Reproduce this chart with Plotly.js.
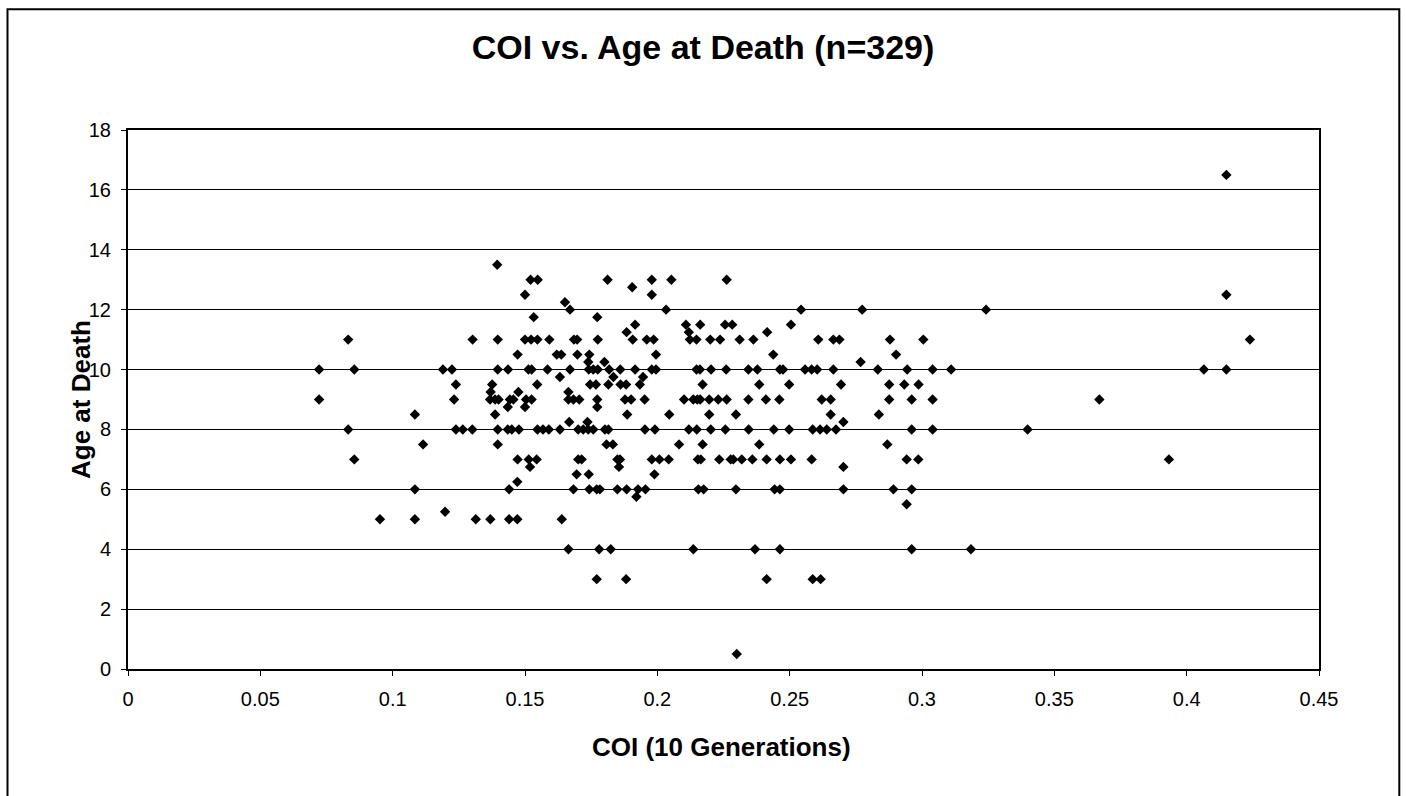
<!DOCTYPE html>
<html>
<head>
<meta charset="utf-8">
<script src="https://cdn.plot.ly/plotly-3.0.1.min.js"></script>
<style>
  html, body { margin: 0; padding: 0; background: #ffffff; }
  #chart { width: 1406px; height: 796px; }
</style>
</head>
<body>
<div id="chart"></div>
<script>
// COI (10 generations) of each dog, one line per age group
const coi = [
  0.415,                                                         // 16.5
  0.1395,                                                        // 13.5
  0.1521, 0.1548, 0.1812, 0.1979, 0.2053, 0.2262,                // 13
  0.1905,                                                        // 12.75
  0.15, 0.1979, 0.415,                                           // 12.5
  0.1651,                                                        // 12.25
  0.167, 0.2033, 0.2543, 0.2774, 0.3242,                         // 12
  0.1533, 0.1773,                                                // 11.75
  0.1916, 0.2108, 0.2162, 0.2256, 0.2283, 0.2505,                // 11.5
  0.1884, 0.2119, 0.2415,                                        // 11.25
  0.0832, 0.1302, 0.1397, 0.15, 0.1523, 0.1547, 0.1592, 0.1685, 0.1697, 0.1775,
  0.1907, 0.196, 0.1986, 0.2123, 0.2148, 0.22, 0.2237, 0.2311, 0.2363, 0.2608,
  0.2665, 0.2688, 0.2879, 0.3005, 0.4239,                        // 11
  0.1472, 0.162, 0.1637, 0.1698, 0.1743, 0.1995, 0.2438, 0.2902, // 10.5
  0.1739, 0.18, 0.2768,                                          // 10.25
  0.0722, 0.0855, 0.119, 0.1224, 0.1397, 0.1436, 0.1513, 0.1525, 0.1585, 0.167,
  0.1741, 0.1758, 0.1775, 0.1818, 0.186, 0.1916, 0.1979, 0.1995, 0.2148, 0.2161,
  0.2203, 0.226, 0.2344, 0.2378, 0.2463, 0.2475, 0.2558, 0.2583, 0.2604, 0.2665,
  0.2833, 0.2944, 0.304, 0.311, 0.4065, 0.415,                   // 10
  0.1632, 0.1834, 0.1946,                                        // 9.75
  0.1239, 0.1376, 0.1546, 0.1746, 0.1768, 0.1815, 0.1861, 0.1882, 0.1934, 0.2171,
  0.2385, 0.2498, 0.2694, 0.2876, 0.2933, 0.2987,                // 9.5
  0.137, 0.1475, 0.1664,                                         // 9.25
  0.0722, 0.1232, 0.1368, 0.1387, 0.14, 0.1443, 0.1456, 0.1504, 0.1525, 0.1664,
  0.1683, 0.1705, 0.1773, 0.1878, 0.1901, 0.1952, 0.2101, 0.2136, 0.2151, 0.2162,
  0.2196, 0.223, 0.2262, 0.2344, 0.241, 0.2461, 0.2621, 0.2655, 0.2876, 0.2961,
  0.304, 0.367,                                                  // 9
  0.1435, 0.15, 0.1773,                                          // 8.75
  0.1084, 0.1387, 0.1886, 0.2045, 0.2196, 0.2297, 0.2655, 0.2837, // 8.5
  0.1667, 0.1736, 0.2703,                                        // 8.25
  0.0832, 0.1239, 0.1265, 0.1301, 0.1397, 0.1435, 0.145, 0.1477, 0.1547, 0.1568,
  0.159, 0.1632, 0.1701, 0.172, 0.1739, 0.1758, 0.1802, 0.1815, 0.1953, 0.1991,
  0.2119, 0.2149, 0.2202, 0.2257, 0.2345, 0.244, 0.2498, 0.2587, 0.2615, 0.264,
  0.2675, 0.2961, 0.304, 0.3399,                                 // 8
  0.1115, 0.1397, 0.1808, 0.1832, 0.2082, 0.2171, 0.2385, 0.2869, // 7.5
  0.0855, 0.1472, 0.1514, 0.1544, 0.1701, 0.1714, 0.1849, 0.1859, 0.1979, 0.2008,
  0.2043, 0.2153, 0.2164, 0.2234, 0.2277, 0.2287, 0.2319, 0.2359, 0.2413, 0.2463,
  0.2505, 0.2583, 0.2942, 0.2986, 0.3933,                        // 7
  0.1519, 0.1855, 0.2703,                                        // 6.75
  0.1695, 0.1741, 0.1989,                                        // 6.5
  0.1471,                                                        // 6.25
  0.1084, 0.144, 0.1683, 0.1743, 0.1771, 0.1783, 0.1849, 0.1884, 0.1927, 0.1955,
  0.2155, 0.2175, 0.2297, 0.2443, 0.2463, 0.2703, 0.2892, 0.2961, // 6
  0.1921,                                                        // 5.75
  0.2942,                                                        // 5.5
  0.1198,                                                        // 5.25
  0.0952, 0.1084, 0.1314, 0.1369, 0.144, 0.1471, 0.1639,         // 5
  0.1664, 0.178, 0.1824, 0.2136, 0.2369, 0.2463, 0.2961, 0.3185, // 4
  0.1771, 0.1882, 0.2413, 0.2587, 0.2617,                        // 3
  0.23                                                           // 0.5
];

// Age at death (years), same order as coi
const ageAtDeath = [
  16.5,
  13.5,
  13, 13, 13, 13, 13, 13,
  12.75,
  12.5, 12.5, 12.5,
  12.25,
  12, 12, 12, 12, 12,
  11.75, 11.75,
  11.5, 11.5, 11.5, 11.5, 11.5, 11.5,
  11.25, 11.25, 11.25,
  11, 11, 11, 11, 11, 11, 11, 11, 11, 11,
  11, 11, 11, 11, 11, 11, 11, 11, 11, 11,
  11, 11, 11, 11, 11,
  10.5, 10.5, 10.5, 10.5, 10.5, 10.5, 10.5, 10.5,
  10.25, 10.25, 10.25,
  10, 10, 10, 10, 10, 10, 10, 10, 10, 10,
  10, 10, 10, 10, 10, 10, 10, 10, 10, 10,
  10, 10, 10, 10, 10, 10, 10, 10, 10, 10,
  10, 10, 10, 10, 10, 10,
  9.75, 9.75, 9.75,
  9.5, 9.5, 9.5, 9.5, 9.5, 9.5, 9.5, 9.5, 9.5, 9.5,
  9.5, 9.5, 9.5, 9.5, 9.5, 9.5,
  9.25, 9.25, 9.25,
  9, 9, 9, 9, 9, 9, 9, 9, 9, 9,
  9, 9, 9, 9, 9, 9, 9, 9, 9, 9,
  9, 9, 9, 9, 9, 9, 9, 9, 9, 9,
  9, 9,
  8.75, 8.75, 8.75,
  8.5, 8.5, 8.5, 8.5, 8.5, 8.5, 8.5, 8.5,
  8.25, 8.25, 8.25,
  8, 8, 8, 8, 8, 8, 8, 8, 8, 8,
  8, 8, 8, 8, 8, 8, 8, 8, 8, 8,
  8, 8, 8, 8, 8, 8, 8, 8, 8, 8,
  8, 8, 8, 8,
  7.5, 7.5, 7.5, 7.5, 7.5, 7.5, 7.5, 7.5,
  7, 7, 7, 7, 7, 7, 7, 7, 7, 7,
  7, 7, 7, 7, 7, 7, 7, 7, 7, 7,
  7, 7, 7, 7, 7,
  6.75, 6.75, 6.75,
  6.5, 6.5, 6.5,
  6.25,
  6, 6, 6, 6, 6, 6, 6, 6, 6, 6,
  6, 6, 6, 6, 6, 6, 6, 6,
  5.75,
  5.5,
  5.25,
  5, 5, 5, 5, 5, 5, 5,
  4, 4, 4, 4, 4, 4, 4, 4,
  3, 3, 3, 3, 3,
  0.5
];

const chartTitle = 'COI vs. Age at Death (n=329)';
const xTitle = 'COI (10 Generations)';
const yTitle = 'Age at Death';

const FONT = 'Liberation Sans, Arial, Helvetica, sans-serif';

const trace = {
  type: 'scatter',
  mode: 'markers',
  x: coi,
  y: ageAtDeath,
  marker: { symbol: 'diamond', size: 8, color: '#000000', line: { width: 0 } },
  hoverinfo: 'x+y',
  showlegend: false
};

// pixel helpers for paper coordinates (plot area: x 128..1319, y 130..669)
const L = 128, R = 1319, T = 130, B = 669;
const px = v => (v - L) / (R - L);
const py = v => (B - v) / (B - T);

const axisCommon = {
  showline: true, mirror: true, linecolor: '#000000', linewidth: 2,
  ticks: 'outside', ticklen: 5, tickwidth: 1, tickcolor: '#000000',
  zeroline: false,
  tickfont: { family: FONT, size: 20, color: '#000000' },
  fixedrange: true
};

const layout = {
  width: 1406, height: 796,
  margin: { l: L, r: 1406 - R, t: T, b: 796 - B, pad: 0 },
  paper_bgcolor: '#ffffff', plot_bgcolor: '#ffffff',
  font: { family: FONT, color: '#000000' },
  title: {
    text: '<b>' + chartTitle + '</b>',
    font: { family: FONT, size: 34, color: '#000000' },
    xref: 'container', x: 0.5, xanchor: 'center',
    yref: 'container', y: 1 - 47 / 796, yanchor: 'middle'
  },
  xaxis: Object.assign({}, axisCommon, {
    range: [0, 0.45], tick0: 0, dtick: 0.05, showgrid: false,
    ticklabelstandoff: 6
  }),
  yaxis: Object.assign({}, axisCommon, {
    range: [0, 18], tick0: 0, dtick: 2,
    showgrid: true, gridcolor: '#000000', gridwidth: 1,
    ticklabelstandoff: 6
  }),
  annotations: [
    { text: '<b>' + xTitle + '</b>', xref: 'paper', yref: 'paper',
      x: px(721), y: py(747), xanchor: 'center', yanchor: 'middle',
      showarrow: false, font: { family: FONT, size: 26, color: '#000000' } },
    { text: '<b>' + yTitle + '</b>', xref: 'paper', yref: 'paper',
      x: px(81), y: py(400), xanchor: 'center', yanchor: 'middle', textangle: -90,
      showarrow: false, font: { family: FONT, size: 26, color: '#000000' } }
  ],
  shapes: [
    { type: 'rect', xref: 'paper', yref: 'paper', layer: 'below',
      x0: px(7.5), x1: px(1399.3), y0: py(830), y1: py(9.3),
      line: { color: '#000000', width: 2 }, fillcolor: 'rgba(0,0,0,0)' }
  ]
};

Plotly.newPlot('chart', [trace], layout, { displayModeBar: false, staticPlot: false });
</script>
</body>
</html>
